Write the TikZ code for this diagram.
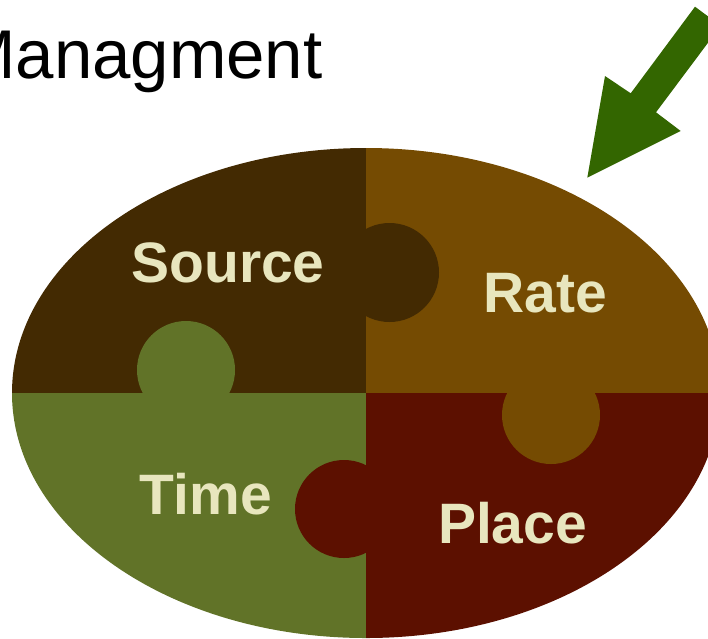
\documentclass[tikz,border=0pt]{standalone}
\usepackage{fontspec}
\setmainfont{Liberation Sans}
\definecolor{srcbrown}{RGB}{67,42,2}
\definecolor{ratebrown}{RGB}{117,75,2}
\definecolor{timegreen}{RGB}{97,115,40}
\definecolor{placered}{RGB}{92,16,0}
\definecolor{labelcream}{RGB}{232,230,190}
\definecolor{arrowgreen}{RGB}{51,102,0}
\tikzset{
  piecelabel/.style={anchor=base, inner sep=0pt, text=labelcream,
    font=\fontsize{57}{57}\selectfont\bfseries},
  titletext/.style={anchor=base west, inner sep=0pt, text=black,
    font=\fontsize{69}{69}\selectfont},
}
\begin{document}
\begin{tikzpicture}[x=1pt,y=-1pt]
  \useasboundingbox (0,0) rectangle (708,638);
  \clip (0,0) rectangle (708,638);
  \fill[white] (0,0) rectangle (708,638);

  % heading
  \node[titletext] (title) at (-42,78.3) {Managment};

  % block arrow pointing at the puzzle
  \fill[arrowgreen] (695,6.7) -- (720.7,25.8) -- (656,112.3) -- (680.7,131)
    -- (587.3,177.7) -- (605,76) -- (630.7,93.3) -- cycle;

  % four puzzle pieces inside the ellipse
  \begin{scope}
    \clip (366,393) ellipse [x radius=354, y radius=245];
    \fill[srcbrown]  (0,0)     rectangle (366,392.5);
    \fill[ratebrown] (366,0)   rectangle (720,392.5);
    \fill[timegreen] (0,392.5) rectangle (366,640);
    \fill[placered]  (366,392.5) rectangle (720,640);
    % interlocking knobs
    \fill[srcbrown]  (389.5,272.5) circle [radius=49.5];
    \fill[timegreen] (186,370)     circle [radius=49];
    \fill[ratebrown] (551,415)     circle [radius=49];
    \fill[placered]  (344,509)     circle [radius=49];
  \end{scope}

  % piece labels
  \node[piecelabel] (source) at (228,282)   {Source};
  \node[piecelabel] (rate)   at (545,312)   {Rate};
  \node[piecelabel] (time)   at (206,514)   {Time};
  \node[piecelabel] (place)  at (512.5,543) {Place};
\end{tikzpicture}
\end{document}
